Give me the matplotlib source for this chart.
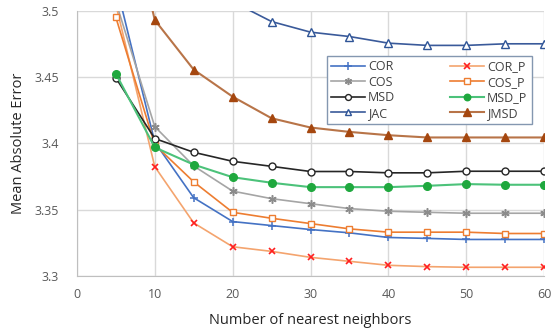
import matplotlib
matplotlib.use("Agg")
import matplotlib.pyplot as plt

plt.rcParams['font.family'] = ['Open Sans', 'DejaVu Sans']

k = [5, 10, 15, 20, 25, 30, 35, 40, 45, 50, 55, 60]

cor    = [3.521, 3.401, 3.359, 3.341, 3.338, 3.335, 3.3325, 3.329, 3.3283, 3.3275, 3.3275, 3.3275]
cor_p  = [3.505, 3.3825, 3.340, 3.322, 3.3185, 3.314, 3.311, 3.308, 3.307, 3.3065, 3.3065, 3.3065]
cos    = [3.507, 3.4127, 3.383, 3.364, 3.3583, 3.3545, 3.3508, 3.3488, 3.348, 3.3473, 3.3473, 3.3473]
cos_p  = [3.4953, 3.399, 3.371, 3.348, 3.3435, 3.3395, 3.3355, 3.333, 3.333, 3.333, 3.332, 3.332]
msd    = [3.4495, 3.4037, 3.3933, 3.3865, 3.3827, 3.3788, 3.3788, 3.3778, 3.3778, 3.379, 3.379, 3.379]
msd_p  = [3.4527, 3.397, 3.384, 3.3745, 3.3703, 3.367, 3.367, 3.367, 3.368, 3.3693, 3.3688, 3.3688]
jac    = [3.75, 3.60, 3.54, 3.507, 3.492, 3.484, 3.4807, 3.4757, 3.474, 3.474, 3.4752, 3.4752]
jmsd   = [3.62, 3.4932, 3.4557, 3.4353, 3.419, 3.412, 3.4087, 3.4062, 3.4045, 3.4045, 3.4045, 3.4045]

x_ticks = [0, 10, 20, 30, 40, 50, 60]
y_ticks = [3.3, 3.35, 3.4, 3.45, 3.5]
y_tick_labels = ["3.3", "3.35", "3.4", "3.45", "3.5"]

fig = plt.figure(figsize=(5.53, 3.32), dpi=100)
ax = fig.add_axes([0.139, 0.169, 0.845, 0.798])

h = {}
h['COR'], = ax.plot(k, cor, color='#4472C4', lw=1.2, marker='+', ms=6, mew=1.1, label='COR')
h['COR_P'], = ax.plot(k, cor_p, color='#F4A46E', lw=1.2, marker='x', ms=5, mew=1.2,
                      mec='#FF2020', label='COR_P')
h['COS'], = ax.plot(k, cos, color='#A5A5A5', lw=1.2, marker=(6, 2, 0), ms=6, mew=1.1,
                    mec='#8C8C8C', label='COS')
h['COS_P'], = ax.plot(k, cos_p, color='#ED7D31', lw=1.2, marker='s', ms=5, mfc='white',
                      mew=1.0, label='COS_P')
h['MSD'], = ax.plot(k, msd, color='#262626', lw=1.2, marker='o', ms=5, mfc='white',
                    mew=1.0, label='MSD')
h['MSD_P'], = ax.plot(k, msd_p, color='#4CC27A', lw=1.5, marker='o', ms=5.5, mfc='#1FA83E',
                      mec='#1FA83E', label='MSD_P')
h['JAC'], = ax.plot(k, jac, color='#3A5A9A', lw=1.2, marker='^', ms=5.5, mfc='white',
                    mec='#2F5597', mew=1.0, label='JAC')
h['JMSD'], = ax.plot(k, jmsd, color='#B87448', lw=1.5, marker='^', ms=6, mfc='#A5470F',
                     mec='#A5470F', label='JMSD')

ax.set_xlim(0, 60)
ax.set_ylim(3.3, 3.5)
ax.set_xticks(x_ticks)
ax.set_yticks(y_ticks)
ax.set_yticklabels(y_tick_labels)
ax.grid(True, color='#D9D9D9', lw=1.0)
ax.set_axisbelow(True)
for s in ['top', 'right']:
    ax.spines[s].set_visible(False)
for s in ['left', 'bottom']:
    ax.spines[s].set_color('#BFBFBF')
ax.tick_params(length=0, labelsize=9, colors='#595959')
ax.tick_params(axis='x', pad=9)
ax.tick_params(axis='y', pad=13)
ax.set_xlabel('Number of nearest neighbors', fontsize=10.5, color='#262626', labelpad=8)
ax.set_ylabel('Mean Absolute Error', fontsize=10.5, color='#262626', labelpad=6)

order = ['COR', 'COS', 'MSD', 'JAC', 'COR_P', 'COS_P', 'MSD_P', 'JMSD']
leg = ax.legend([h[n] for n in order], order, ncol=2, loc='upper left',
                bbox_to_anchor=(0.535, 0.831), fontsize=9, frameon=True, fancybox=False,
                framealpha=1, edgecolor='#8497B0', borderpad=0.35, labelspacing=0.2,
                handlelength=2.7, columnspacing=4.4, handletextpad=0.25, markerscale=0.85,
                borderaxespad=0)
leg.get_frame().set_linewidth(1.0)
for t in leg.get_texts():
    t.set_color('#404040')

fig.savefig('out.png', dpi=100)
